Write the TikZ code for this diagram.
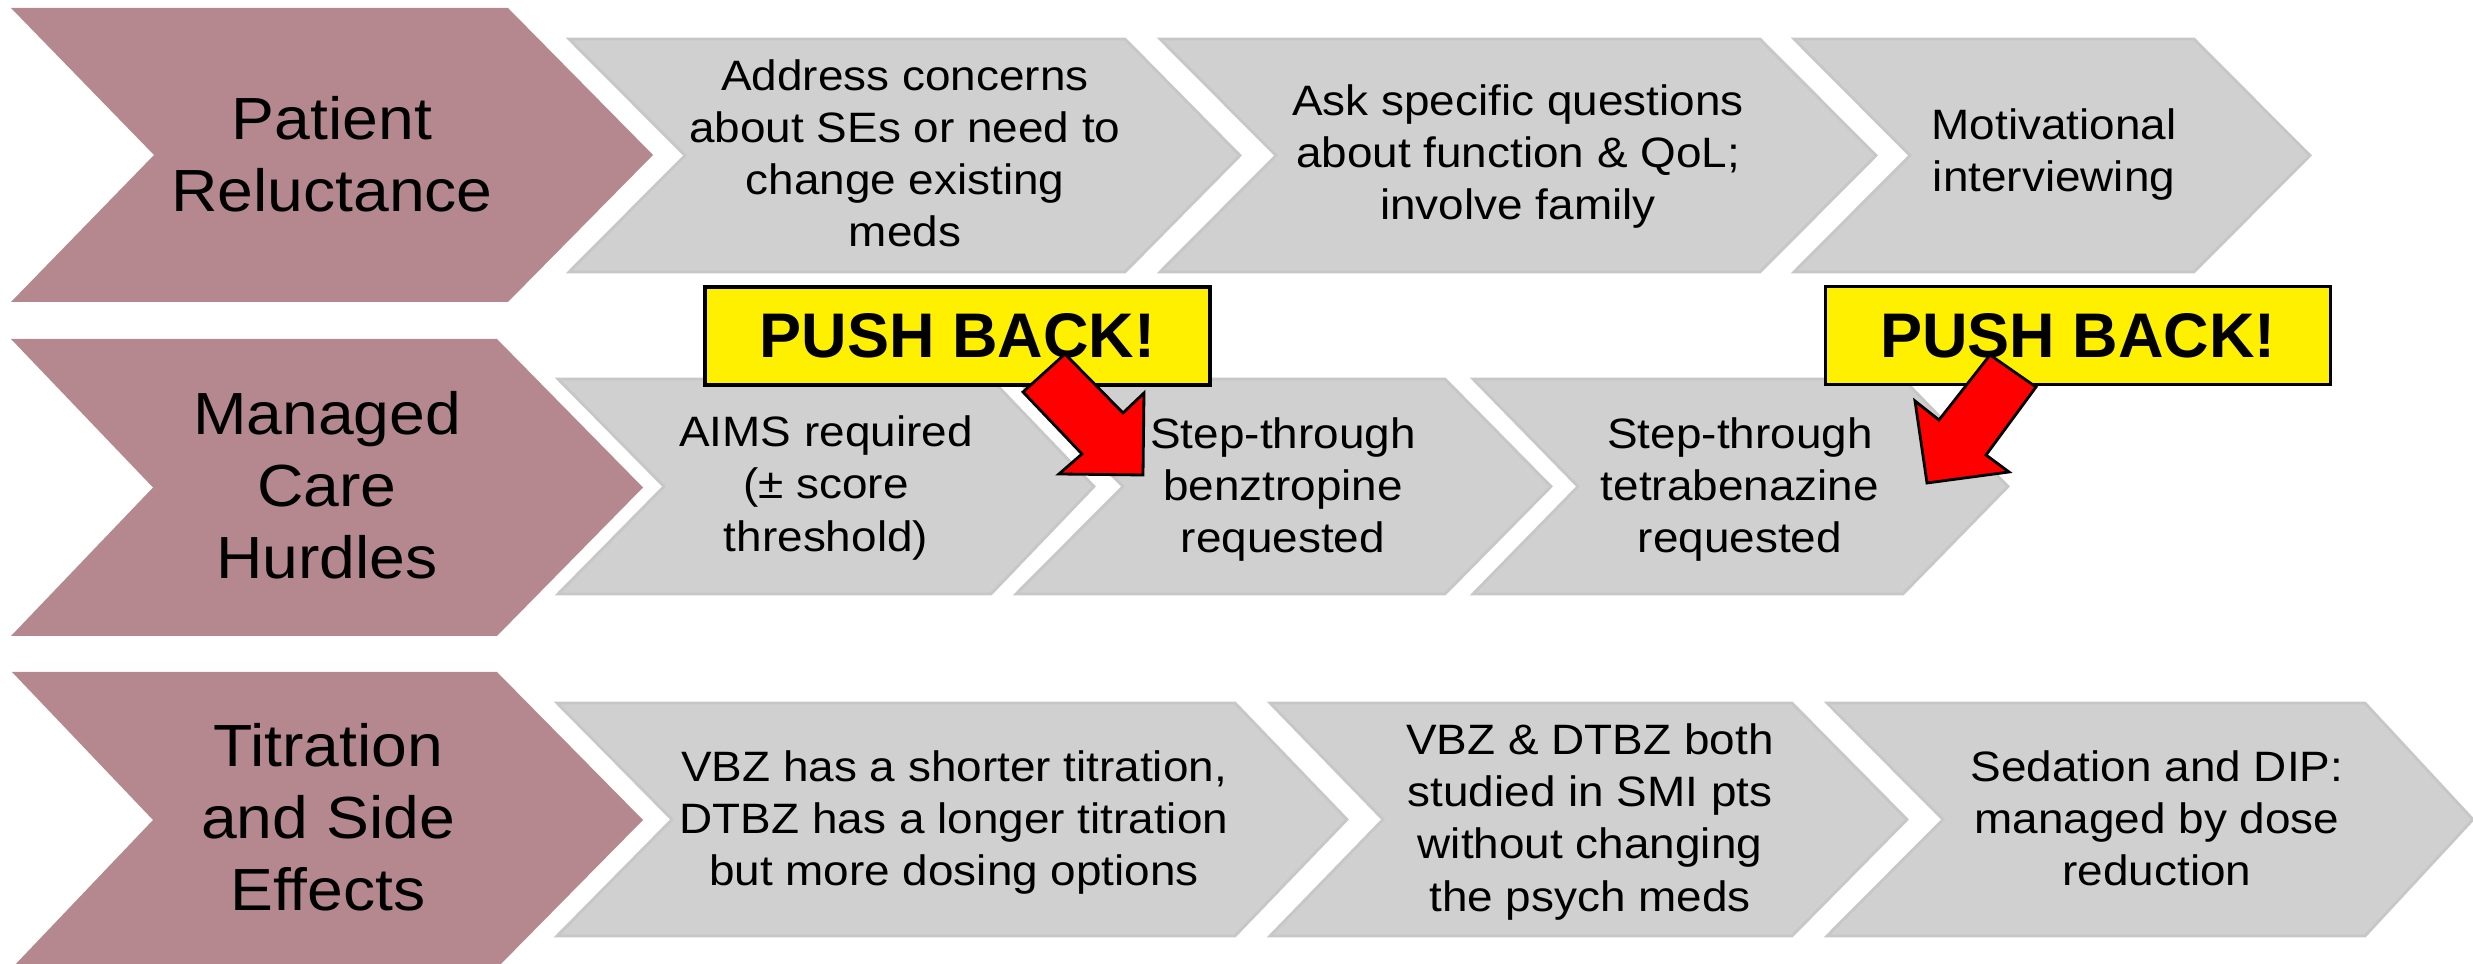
\documentclass[tikz,border=0pt]{standalone}
\usepackage{fontspec}
\setmainfont{Liberation Sans}[FakeStretch=1.08]
\newfontfamily\pushfont{Liberation Sans}
\definecolor{mauve}{RGB}{180,136,142}
\definecolor{chevgrey}{RGB}{208,208,208}
\definecolor{chevline}{RGB}{199,199,199}
\definecolor{pbyellow}{RGB}{255,240,0}
\newcommand\chevshape[7]{\path[#1] (#2,#6) -- (#4,#6) -- (#5,{(#6+#7)/2}) -- (#4,#7) -- (#2,#7) -- (#3,{(#6+#7)/2}) -- cycle;}
\tikzset{
  headchev/.style={fill=mauve},
  greychev/.style={fill=chevgrey, draw=chevline, line width=0.8pt, line join=miter},
  headtext/.style={align=center, font=\fontsize{16.93}{20.49}\selectfont, inner sep=0pt},
  bodytext/.style={align=center, font=\fontsize{12.09}{14.8}\selectfont, inner sep=0pt},
  pushbox/.style={fill=pbyellow, draw=black, line width=0.9pt, inner sep=0pt,
    minimum width=50.5mm, minimum height=9.8mm, font=\pushfont\bfseries\fontsize{17.93}{20}\selectfont},
  redarrow/.style={fill=red, draw=black, line width=0.8pt, line join=miter},
}
\begin{document}
\begin{tikzpicture}[x=0.1mm,y=-0.1mm]
\useasboundingbox (0,0) rectangle (2473,964);
\clip (0,0) rectangle (2473,964);

% row 1
\chevshape{headchev}{11}{154}{508}{653}{8}{302}
\chevshape{greychev}{569}{685}{1125}{1240}{39}{272}
\chevshape{greychev}{1160}{1276}{1760}{1876}{39}{272}
\chevshape{greychev}{1794}{1910}{2194}{2310}{39}{272}
% row 2
\chevshape{headchev}{11}{153}{497}{643}{339}{636}
\chevshape{greychev}{558}{664}{991}{1094}{379}{594}
\chevshape{greychev}{1016}{1123}{1445}{1551}{379}{594}
\chevshape{greychev}{1473}{1578}{1903}{2008}{379}{594}
% row 3
\chevshape{headchev}{12}{153}{497}{643}{672}{968}
\chevshape{greychev}{557}{672}{1235}{1347}{703}{936}
\chevshape{greychev}{1270}{1383}{1792}{1907}{703}{936}
\chevshape{greychev}{1827}{1943}{2365}{2473}{703}{936}

% headings
\node[headtext] (p1) at (332,154) {Patient\\Reluctance};
\node[headtext] (p2) at (327,485) {Managed\\Care\\Hurdles};
\node[headtext] (p3) at (328,817) {Titration\\and Side\\Effects};

% row 1 texts
\node[bodytext] (a1) at (905,153) {Address concerns\\about SEs or need to\\change existing\\meds};
\node[bodytext] (a2) at (1518,157) {Ask specific questions\\about function \& QoL;\\involve family};
\node[bodytext] (a3) at (2054,155) {Motivational\\interviewing};

% row 2 texts
\node[bodytext] (b1) at (826,488) {AIMS required\\(± score\\threshold)};
\node[bodytext] (b2) at (1283,490) {Step-through\\benztropine\\requested};
\node[bodytext] (b3) at (1740,490) {Step-through\\tetrabenazine\\requested};

% row 3 texts
\node[bodytext] (c1) at (954,823) {VBZ has a shorter titration,\\DTBZ has a longer titration\\but more dosing options};
\node[bodytext] (c2) at (1590,822) {VBZ \& DTBZ both\\studied in SMI pts\\without changing\\the psych meds};
\node[bodytext] (c3) at (2157,818) {Sedation and DIP:\\managed by dose\\reduction};

% push back boxes
\node[pushbox] (pb1) at (957.5,336) {PUSH BACK!};
\node[pushbox] (pb2) at (2078,335.5) {PUSH BACK!};

% red block arrows
\path[redarrow] (1065,354) -- (1123,413) -- (1144,393) -- (1143,475) -- (1059,474) -- (1082,454) -- (1023,392) -- cycle;
\path[redarrow] (1990,355) -- (2036,387) -- (1986,455) -- (2009,472) -- (1927,483) -- (1915,401) -- (1939,420) -- cycle;
\end{tikzpicture}
\end{document}
